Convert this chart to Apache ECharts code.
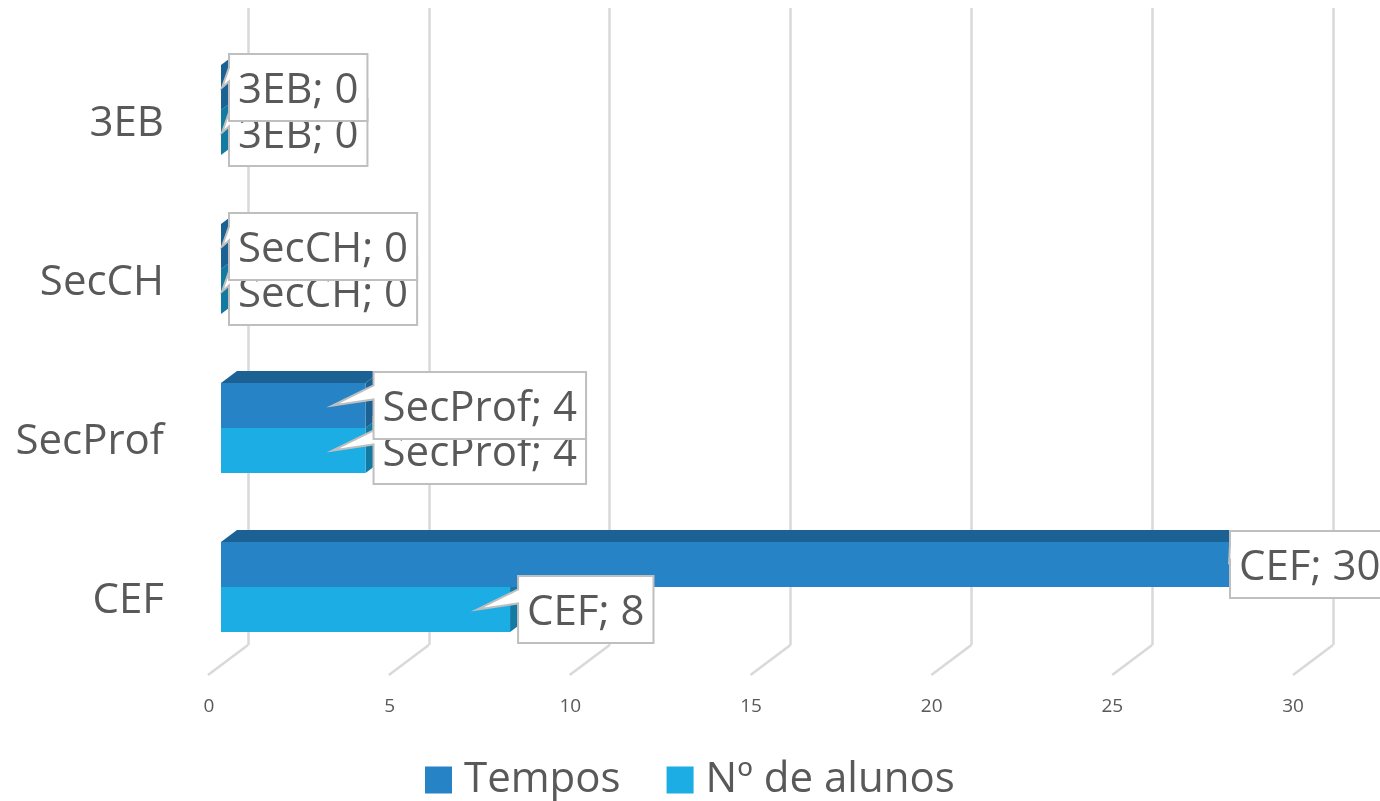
<!DOCTYPE html>
<html>
<head>
	<meta charset="utf-8" />
	<title>Tempos e Nº de alunos</title>
	<script src="https://cdn.jsdelivr.net/npm/echarts@6/dist/echarts.min.js"></script>
	<style>
		html, body { margin: 0; padding: 0; background: #fff; }
		#container { width: 1380px; height: 801px; }
	</style>
</head>
<body>
<div id="container"></div>
<script>
	var categories = ['CEF', 'SecProf', 'SecCH', '3EB'];
	var tempos = [30, 4, 0, 0];
	var alunos = [8, 4, 0, 0];
	var tickValues = [0, 5, 10, 15, 20, 25, 30];

	var FONT = '"Open Sans", sans-serif';
	var BIG_SIZE = 42;
	var TEXT_COLOR = '#595959';
	var GRID_COLOR = '#D9D9D9';
	var BAR_H = 45;          // bar thickness
	var DEPTH_X = 16, DEPTH_Y = 12;  // fake 3d depth of the bars
	var LABEL_MAX_LEFT = 1230;

	var measure = document.createElement('canvas').getContext('2d');
	function textWidth(text) {
		measure.font = BIG_SIZE + 'px ' + FONT;
		return measure.measureText(text).width;
	}

	// one 3d bar with its callout label
	function barItem(front, top, side, upper, labelZ) {
		return function (params, api) {
			var value = api.value(0), idx = api.value(1);
			var x0 = api.coord([0, idx])[0];
			var p = api.coord([value, idx]);
			var end = p[0];
			var y1 = upper ? p[1] - BAR_H : p[1];
			var y2 = y1 + BAR_H;
			var cy = (y1 + y2) / 2;
			var children = [];

			children.push({
				type: 'polygon', z2: 1,
				shape: { points: [[end, y1], [end + DEPTH_X, y1 - DEPTH_Y], [end + DEPTH_X, y2 - DEPTH_Y], [end, y2]] },
				style: { fill: side }
			});
			if (upper) {
				children.push({
					type: 'polygon', z2: 1,
					shape: { points: [[x0, y1], [x0 + DEPTH_X, y1 - DEPTH_Y], [end + DEPTH_X, y1 - DEPTH_Y], [end, y1]] },
					style: { fill: top }
				});
			}
			children.push({
				type: 'rect', z2: 2,
				shape: { x: x0, y: y1, width: end - x0, height: BAR_H },
				style: { fill: front }
			});

			// callout box, tail included in the same outline
			var text = categories[idx] + '; ' + value;
			var left = Math.min(end + 8, LABEL_MAX_LEFT);
			var right = left + textWidth(text) + 18;
			var tip = Math.min(Math.max(x0 + 1, end - 33), left - 1);
			var bTop = cy - 33.5, bBottom = cy + 33.5;
			children.push({
				type: 'polygon', z2: labelZ,
				shape: { points: [[left, bTop], [left, cy - 20], [tip, cy], [left, cy - 6], [left, bBottom], [right, bBottom], [right, bTop]] },
				style: { fill: '#fff', stroke: '#BFBFBF', lineWidth: 2 }
			});
			children.push({
				type: 'text', z2: labelZ,
				style: { x: left + 9, y: cy + 4, text: text, fill: TEXT_COLOR, font: BIG_SIZE + 'px ' + FONT, verticalAlign: 'middle' }
			});
			return { type: 'group', children: children };
		};
	}

	// diagonal piece of each gridline, on the floor
	function floorItem(params, api) {
		var p = api.coord([api.value(0), 0]);
		return {
			type: 'line',
			shape: { x1: p[0], y1: 645, x2: p[0] - 40, y2: 675 },
			style: { stroke: GRID_COLOR, lineWidth: 2.5 }
		};
	}

	var valueAxisBase = { type: 'value', min: 0, max: 30, interval: 5 };

	var chart = echarts.init(document.getElementById('container'));
	chart.setOption({
		animation: false,
		backgroundColor: '#fff',
		legend: {
			left: 420, top: 754,
			itemWidth: 27, itemHeight: 27, itemGap: 46,
			icon: 'rect',
			textStyle: { fontFamily: FONT, fontSize: BIG_SIZE, color: TEXT_COLOR, padding: [0, 0, 0, 7] },
			data: ['Tempos', 'Nº de alunos']
		},
		grid: [
			{ left: 248, top: 8, width: 1085, height: 637 },     // back wall
			{ left: 221, top: 30.5, width: 1084, height: 636 },  // bars
			{ left: 209, top: 45, width: 1084, height: 636 }     // axis labels
		],
		xAxis: [
			Object.assign({}, valueAxisBase, {
				gridIndex: 0, axisLabel: { show: false }, axisLine: { show: false }, axisTick: { show: false },
				splitLine: { show: true, lineStyle: { color: GRID_COLOR, width: 2.5 } }
			}),
			Object.assign({}, valueAxisBase, { gridIndex: 1, show: false }),
			Object.assign({}, valueAxisBase, {
				gridIndex: 2, axisLine: { show: false }, axisTick: { show: false }, splitLine: { show: false },
				axisLabel: { margin: 16, fontFamily: '"Open Sans", sans-serif', fontSize: 19, color: TEXT_COLOR }
			})
		],
		yAxis: [
			{ type: 'value', gridIndex: 0, show: false, min: 0, max: 1 },
			{ type: 'category', gridIndex: 1, show: false, data: categories },
			{
				type: 'category', gridIndex: 2, data: categories,
				axisLine: { show: false }, axisTick: { show: false }, splitLine: { show: false },
				axisLabel: { margin: 45, fontFamily: FONT, fontSize: BIG_SIZE, color: TEXT_COLOR }
			}
		],
		series: [
			{
				type: 'custom', name: 'floor', xAxisIndex: 0, yAxisIndex: 0,
				renderItem: floorItem, silent: true, data: tickValues.map(function (t) { return [t, 0]; })
			},
			{
				type: 'custom', name: 'Nº de alunos', xAxisIndex: 1, yAxisIndex: 1,
				itemStyle: { color: '#1CADE4' },
				renderItem: barItem('#1CADE4', '#1581AB', '#137AA1', false, 3),
				data: alunos.map(function (v, i) { return [v, i]; })
			},
			{
				type: 'custom', name: 'Tempos', xAxisIndex: 1, yAxisIndex: 1,
				itemStyle: { color: '#2683C6' },
				renderItem: barItem('#2683C6', '#1C6194', '#1C6194', true, 4),
				data: tempos.map(function (v, i) { return [v, i]; })
			}
		]
	});
</script>
</body>
</html>
